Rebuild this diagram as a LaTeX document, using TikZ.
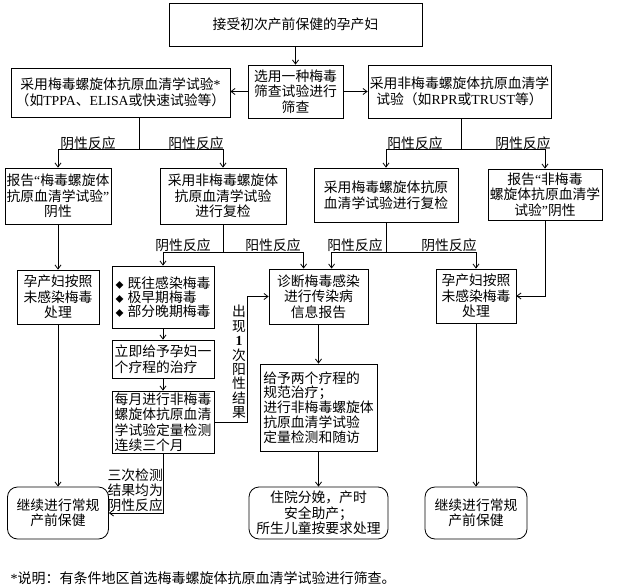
\documentclass[tikz,border=0pt]{standalone}
\usepackage{fontspec}
\setmainfont{Noto Sans CJK SC}
\newfontfamily\lat{Liberation Serif}
\usetikzlibrary{arrows.meta,calc}
\newcommand{\fs}{\fontsize{13.8}{15.5}\selectfont}
\newcommand{\bul}{{\fontsize{8}{8}\selectfont ◆}\hspace{4pt}}
\newcommand{\lqm}{{\lat “}}
\newcommand{\rqm}{{\lat ”}}
\begin{document}
\begin{tikzpicture}[x=1pt,y=-1pt,
  box/.style={draw, line width=0.8pt, inner sep=1pt, align=center, font=\fs},
  lbox/.style={box, align=left},
  rbox/.style={box, rounded corners=10pt},
  lbl/.style={inner sep=0.5pt, font=\fs},
  arr/.style={line width=0.8pt, -{Straight Barb[length=4pt,width=6pt]}},
  ln/.style={line width=0.8pt}]
\useasboundingbox (0,0) rectangle (631,588);

\node[box, minimum width=253pt, minimum height=43pt] (top) at (295.5,24.5) {接受初次产前保健的孕产妇};
\node[box, minimum width=95pt, minimum height=53pt] (scr) at (295.5,91.5) {选用一种梅毒\\筛查试验进行\\筛查};
\node[box, minimum width=219pt, minimum height=49pt] (L1) at (120.5,92.5) {采用梅毒螺旋体抗原血清学试验{\lat *}\\（如{\lat TPPA}、{\lat ELISA}或快速试验等）};
\node[box, minimum width=183pt, minimum height=53pt] (R1) at (459.5,91.5) {采用非梅毒螺旋体抗原血清学\\试验（如{\lat RPR}或{\lat TRUST}等）};

\node[box, minimum width=106pt, minimum height=56pt] (A) at (58,196) {报告\lqm 梅毒螺旋体\\抗原血清学试验\rqm\\阴性};
\node[box, minimum width=126pt, minimum height=56pt] (B) at (223,196) {采用非梅毒螺旋体\\抗原血清学试验\\进行复检};
\node[box, minimum width=144pt, minimum height=54pt] (C) at (386,195) {采用梅毒螺旋体抗原\\血清学试验进行复检};
\node[box, minimum width=114pt, minimum height=51pt] (D) at (545,194.5) {报告\lqm 非梅毒\\螺旋体抗原血清学\\试验\rqm 阴性};

\node[box, minimum width=82pt, minimum height=54pt] (E) at (58,297) {孕产妇按照\\未感染梅毒\\处理};
\node[lbox, minimum width=102pt, minimum height=62pt, font=\fontsize{13.8}{13.8}\selectfont] (F) at (163,297) {\bul 既往感染梅毒\\\bul 极早期梅毒\\\bul 部分晚期梅毒};
\node[lbox, minimum width=102pt, minimum height=38pt] (G) at (163,359) {立即给予孕妇一\\个疗程的治疗};
\node[lbox, minimum width=102pt, minimum height=62pt] (H) at (163,422) {每月进行非梅毒\\螺旋体抗原血清\\学试验定量检测\\连续三个月};
\node[box, minimum width=99pt, minimum height=55pt] (I) at (318.5,296.5) {诊断梅毒感染\\进行传染病\\信息报告};
\node[lbox, minimum width=117pt, minimum height=87pt, font=\fontsize{13.8}{14.8}\selectfont] (J) at (318.5,407.5) {给予两个疗程的\\规范治疗；\\进行非梅毒螺旋体\\抗原血清学试验\\定量检测和随访};
\node[box, minimum width=80pt, minimum height=54pt] (K) at (476,296) {孕产妇按照\\未感染梅毒\\处理};

\node[rbox, minimum width=101pt, minimum height=52pt] (M) at (58,513) {继续进行常规\\产前保健};
\node[rbox, minimum width=139pt, minimum height=52pt] (N) at (318.5,513) {住院分娩，产时\\安全助产；\\所生儿童按要求处理};
\node[rbox, minimum width=102pt, minimum height=52pt] (P) at (476,513) {继续进行常规\\产前保健};

% labels
\node[lbl] (l1) at (88,143) {阴性反应};
\node[lbl] (l2) at (196,143) {阳性反应};
\node[lbl] (l3) at (415,143) {阳性反应};
\node[lbl] (l4) at (523,143) {阴性反应};
\node[lbl] (l5) at (183,245) {阴性反应};
\node[lbl] (l6) at (273,245) {阳性反应};
\node[lbl] (l7) at (355,245) {阳性反应};
\node[lbl] (l8) at (449,245) {阴性反应};
\node[lbl, align=center, font=\fontsize{13.8}{14.4}\selectfont] (l9) at (239,362) {出\\现\\{\lat\bfseries 1}\\次\\阳\\性\\结\\果};
\node[lbl, align=right, anchor=south east, font=\fontsize{13.8}{15}\selectfont] (l10) at (163.5,512) {三次检测\\结果均为\\阴性反应};
\node[lbl, anchor=west, font=\fontsize{14}{15}\selectfont] (note) at (10,578) {{\lat *}说明：有条件地区首选梅毒螺旋体抗原血清学试验进行筛查。};

% connectors
\draw[arr] (top) -- (scr);
\draw[arr] (scr.west) -- (scr.west -| L1.east);
\draw[arr] (scr.east) -- (scr.east -| R1.west);

\coordinate (j1) at (139,149);
\draw[ln] (L1.south -| j1) -- (j1);
\draw[arr] (j1) -| (A.north);
\draw[arr] (j1) -| (B.north);

\coordinate (j2) at (461,149);
\draw[ln] (R1.south -| j2) -- (j2);
\draw[arr] (j2) -| (C.north);
\draw[arr] (j2) -| (D.north);

\coordinate (j3) at (223,252);
\draw[ln] (B.south) -- (j3);
\draw[arr] (j3) -| (F.north);
\draw[arr] (j3) -| ($(I.north west)+(35,0)$);

\coordinate (j4) at (386,252);
\draw[ln] (C.south) -- (j4);
\draw[arr] (j4) -| ($(I.north west)+(63,0)$);
\draw[arr] (j4) -| (K.north);

\draw[arr] (D.south) |- (K.east);
\draw[arr] (A) -- (E);
\draw[arr] (E) -- (M);
\draw[arr] (F) -- (G);
\draw[arr] (G) -- (H);
\draw[arr] (H.east) -| ($(I.west)+(-21,0)$) -- (I.west);
\draw[arr] (H.south) |- (M.east);
\draw[arr] (I) -- (J);
\draw[arr] (J) -- (N);
\draw[arr] (K) -- (P);
\end{tikzpicture}
\end{document}
